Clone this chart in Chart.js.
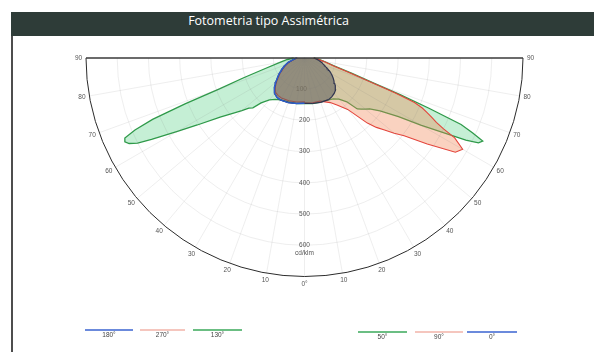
<!DOCTYPE html>
<html>
<head>
<meta charset="utf-8">
<script src="https://cdn.jsdelivr.net/npm/chart.js@4.4.1/dist/chart.umd.min.js"></script>
<style>
  html, body { margin: 0; padding: 0; background: #fff; }
  #wrap { position: relative; width: 594px; height: 352px; overflow: hidden; background: #fff; }
  #frame { position: absolute; left: 11px; top: 12px; width: 1.5px; height: 340px; background: #4d4d4d; }
  #bar { position: absolute; left: 11px; top: 12px; width: 583px; height: 24px; background: #2e3c38; }
  #title { position: absolute; left: 0; top: 12px; width: 537px; height: 24px; line-height: 24px;
           text-align: center; color: #fff; font: 12.5px "Open Sans", sans-serif; }
  canvas { position: absolute; left: 0; top: 0; }
</style>
</head>
<body>
<div id="wrap">
  <div id="frame"></div>
  <div id="bar"></div>
  <div id="title">Fotometria tipo Assimétrica</div>
  <canvas id="c" width="594" height="352"></canvas>
</div>
<script>
// Gamma angles (degrees from nadir) at which intensities are given
const angles = [0, 10, 20, 30, 35, 40, 44, 46, 48, 50, 52, 55, 58, 60, 62, 63, 64, 65, 66, 67, 68, 69, 70, 72, 75, 80, 85, 90];

// Luminous intensity, cd/klm, per C-plane (left half: C180 / C270 / C130, right half: C0 / C90 / C50)
const c180 = [145, 148, 152, 155, 154, 148, 140, 134, 126, 120, 113, 104, 96, 90, 84, 82, 80, 77, 74, 72, 70, 67, 65, 60, 54, 40, 32, 25];
const c0   = [145, 148, 151, 154, 152, 148, 143, 138, 132, 126, 120, 112, 104, 98, 92, 88, 85, 82, 79, 75, 72, 70, 68, 63, 58, 47, 38, 30];
const c270 = [140, 143, 146, 148, 147, 143, 136, 130, 122, 116, 109, 100, 92, 86, 80, 78, 76, 73, 70, 68, 66, 63, 61, 56, 50, 37, 29, 22];
const c90  = [145, 146, 147, 165, 185, 215, 290, 320, 345, 375, 405, 480, 570, 585, 545, 500, 470, 450, 430, 410, 380, 310, 225, 150, 95, 62, 42, 28];
const c130 = [145, 148, 150, 155, 162, 175, 200, 230, 240, 262, 285, 330, 405, 470, 555, 600, 625, 635, 630, 590, 525, 410, 290, 205, 130, 80, 55, 35];
const c50  = [145, 148, 150, 155, 160, 172, 195, 235, 245, 255, 265, 295, 355, 430, 520, 580, 620, 630, 590, 545, 430, 330, 240, 160, 100, 65, 45, 30];

// Axis ticks
const ringValues = [100, 200, 300, 400, 500, 600];
const angleTicks = [90, 80, 70, 60, 50, 40, 30, 20, 10];
const unitLabel = 'cd/klm';
const rMax = 700;

// Legend entries
const legendLabels = ['180°', '270°', '130°', '50°', '90°', '0°'];
const legendColors = ['#3a63d0', '#f2b3a8', '#3aa95a', '#3aa95a', '#f2b3a8', '#3a63d0'];

function leftHalf(vals) {
  const pts = [];
  for (let i = angles.length - 1; i >= 0; i--) {
    const a = angles[i] * Math.PI / 180;
    pts.push({ x: -vals[i] * Math.sin(a), y: -vals[i] * Math.cos(a) });
  }
  return pts;
}
function rightHalf(vals) {
  return angles.map((g, i) => {
    const a = g * Math.PI / 180;
    return { x: vals[i] * Math.sin(a), y: -vals[i] * Math.cos(a) };
  });
}
// Closed outline: left plane from 90° down to nadir, then right plane back up to 90°
function outline(left, right) {
  return leftHalf(left).concat(rightHalf(right));
}

const polarFrame = {
  id: 'polarFrame',
  beforeDatasetsDraw(chart) {
    const { ctx, scales: { x, y } } = chart;
    const cx = x.getPixelForValue(0), cy = y.getPixelForValue(0);
    const k = x.getPixelForValue(1) - cx;
    ctx.save();
    ctx.fillStyle = '#444';
    ctx.font = '6.5px "Liberation Sans", sans-serif';
    ctx.textAlign = 'center';
    ctx.textBaseline = 'middle';
    ctx.fillText(String(ringValues[0]), cx - 3, cy + ringValues[0] * k);
    ctx.restore();
  },
  afterDatasetsDraw(chart) {
    const { ctx, scales: { x, y } } = chart;
    const cx = x.getPixelForValue(0), cy = y.getPixelForValue(0);
    const k = x.getPixelForValue(1) - cx;
    const R = rMax * k;
    ctx.save();
    // grid: rings and spokes
    ctx.strokeStyle = 'rgba(120,120,120,0.16)';
    ctx.lineWidth = 0.8;
    ringValues.forEach(v => {
      ctx.beginPath();
      ctx.arc(cx, cy, v * k, 0, Math.PI);
      ctx.stroke();
    });
    for (let g = 10; g <= 80; g += 10) {
      const a = g * Math.PI / 180;
      [-1, 1].forEach(s => {
        ctx.beginPath();
        ctx.moveTo(cx, cy);
        ctx.lineTo(cx + s * R * Math.sin(a), cy + R * Math.cos(a));
        ctx.stroke();
      });
    }
    ctx.beginPath(); ctx.moveTo(cx, cy); ctx.lineTo(cx, cy + R); ctx.stroke();
    // outer arc and top line
    ctx.strokeStyle = '#2b2b2b';
    ctx.lineWidth = 1;
    ctx.beginPath();
    ctx.arc(cx, cy, R, 0, Math.PI);
    ctx.stroke();
    ctx.strokeStyle = '#3a3a3a';
    ctx.lineWidth = 1.3;
    ctx.beginPath();
    ctx.moveTo(cx - R, cy); ctx.lineTo(cx + R, cy);
    ctx.stroke();
    // ring labels along the nadir axis
    ctx.fillStyle = '#555';
    ctx.font = '6.5px "Liberation Sans", sans-serif';
    ctx.textAlign = 'center';
    ctx.textBaseline = 'middle';
    ringValues.slice(1).forEach(v => ctx.fillText(String(v), cx, cy + v * k));
    ctx.fillText(unitLabel, cx, cy + ringValues[ringValues.length - 1] * k + 8);
    // angle labels around the arc
    const rl = R + 7.5;
    angleTicks.forEach(g => {
      const a = g * Math.PI / 180;
      ctx.fillText(String(g), cx - rl * Math.sin(a), cy + rl * Math.cos(a));
      ctx.fillText(String(g), cx + rl * Math.sin(a), cy + rl * Math.cos(a));
    });
    ctx.fillText('0°', cx, cy + rl);
    // legend
    const spans = [[85, 133, 330], [140, 185, 330], [193, 242, 330], [358, 407, 332], [415, 463, 332], [467, 517, 332]];
    spans.forEach((s, i) => {
      ctx.strokeStyle = legendColors[i];
      ctx.lineWidth = 1.4;
      ctx.beginPath(); ctx.moveTo(s[0], s[2]); ctx.lineTo(s[1], s[2]); ctx.stroke();
      ctx.fillStyle = '#444';
      ctx.fillText(legendLabels[i], (s[0] + s[1]) / 2, s[2] + 5);
    });
    ctx.restore();
  }
};

new Chart(document.getElementById('c'), {
  type: 'scatter',
  data: {
    datasets: [
      {
        label: 'C180 edge',
        data: leftHalf(c180),
        showLine: true, fill: false, tension: 0, clip: false,
        borderColor: '#2a5cd0', borderWidth: 1.4, pointRadius: 0
      },
      {
        label: 'C0 / C180',
        data: outline(c180, c0),
        showLine: true, fill: 'shape', tension: 0, clip: false,
        backgroundColor: 'rgba(95,95,95,0.56)',
        borderColor: '#2f3450', borderWidth: 1.2, pointRadius: 0
      },
      {
        label: 'C90 / C270',
        data: outline(c270, c90),
        showLine: true, fill: 'shape', tension: 0, clip: false,
        backgroundColor: 'rgba(240,130,80,0.36)',
        borderColor: '#e4453c', borderWidth: 1.1, pointRadius: 0
      },
      {
        label: 'C50 / C130',
        data: outline(c130, c50),
        showLine: true, fill: 'shape', tension: 0, clip: false,
        backgroundColor: 'rgba(110,215,150,0.4)',
        borderColor: '#2f9a4a', borderWidth: 1.3, pointRadius: 0
      }
    ]
  },
  options: {
    responsive: false,
    animation: false,
    devicePixelRatio: 1,
    layout: { padding: { left: 86, right: 71, top: 58, bottom: 75.5 } },
    scales: {
      x: { type: 'linear', min: -rMax, max: rMax, display: false },
      y: { type: 'linear', min: -rMax, max: 0, display: false }
    },
    plugins: { legend: { display: false }, tooltip: { enabled: false } }
  },
  plugins: [polarFrame]
});
</script>
</body>
</html>
